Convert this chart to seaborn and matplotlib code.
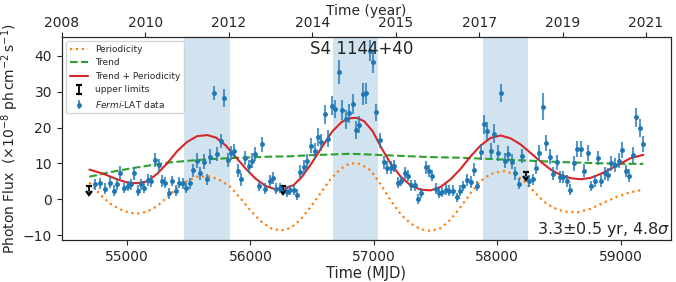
import matplotlib
matplotlib.use("Agg")
import matplotlib.pyplot as plt
import numpy as np
import pandas as pd
import seaborn as sns

# Fermi-LAT light curve (MJD, flux in 1e-8 ph cm^-2 s^-1, 1 sigma error)
mjd = [54737, 54778, 54819, 54859, 54891, 54919, 54946, 54973, 55005, 55032,
       55059, 55086, 55113, 55140, 55170, 55197, 55229, 55256, 55283, 55310,
       55340, 55367, 55394, 55424, 55451, 55481, 55508, 55535, 55567, 55594,
       55621, 55648, 55675, 55705, 55732, 55762, 55789, 55816, 55843, 55870,
       55900, 55927, 55954, 55986, 56013, 56040, 56067, 56094, 56121, 56154,
       56181, 56208, 56238, 56292, 56324, 56351, 56378, 56405, 56432, 56459,
       56492, 56519, 56546, 56573, 56603, 56630, 56657, 56684, 56716, 56743,
       56770, 56797, 56827, 56854, 56881, 56911, 56938, 56965, 56994, 57021,
       57048, 57081, 57108, 57135, 57162, 57195, 57222, 57249, 57276, 57303,
       57330, 57357, 57384, 57419, 57446, 57473, 57500, 57527, 57554, 57581,
       57608, 57641, 57670, 57697, 57725, 57752, 57784, 57811, 57838, 57865,
       57892, 57919, 57946, 57973, 58006, 58033, 58060, 58089, 58116, 58144,
       58176, 58203, 58257, 58287, 58314, 58341, 58368, 58395, 58427, 58454,
       58481, 58508, 58535, 58562, 58589, 58622, 58649, 58676, 58703, 58735,
       58762, 58789, 58817, 58844, 58871, 58898, 58925, 58952, 58987, 59014,
       59041, 59068, 59100, 59127, 59154, 59184]
flux = [4.2, 4.5, 3.0, 4.7, 2.4, 4.2, 7.4, 3.2, 3.7, 4.2,
        7.3, 2.4, 4.2, 3.2, 5.4, 5.1, 11.0, 9.5, 5.1, 4.7,
        1.7, 5.1, 2.4, 4.7, 4.5, 3.2, 4.5, 8.1, 10.8, 7.3,
        10.5, 5.6, 11.9, 29.6, 12.7, 16.3, 28.3, 11.0, 12.9, 13.4,
        8.0, 5.6, 11.5, 9.2, 10.8, 12.6, 3.7, 15.3, 3.0, 5.1,
        6.0, 3.0, 3.2, 2.1, 2.6, 2.6, 1.3, 7.7, 9.1, 10.6,
        15.0, 13.5, 17.4, 15.9, 23.7, 16.9, 26.1, 25.2, 35.4, 25.0,
        22.3, 24.0, 26.6, 19.3, 20.8, 29.3, 29.5, 41.4, 38.3, 24.2,
        16.4, 10.3, 8.8, 8.8, 9.3, 4.7, 5.1, 7.3, 6.6, 3.9,
        3.9, 0.1, 1.7, 9.0, 7.9, 6.6, 3.0, 1.7, 2.0, 2.7,
        2.4, 2.4, 0.6, 2.4, 3.7, 5.4, 4.9, 8.3, 3.7, 13.1,
        20.9, 19.0, 13.4, 18.3, 12.9, 29.6, 10.8, 12.7, 10.5, 7.3,
        4.4, 12.0, 5.1, 5.6, 8.8, 12.9, 25.8, 15.6, 11.9, 7.1,
        10.3, 6.3, 6.3, 5.1, 2.7, 10.0, 14.1, 14.1, 8.0, 12.9,
        3.7, 5.1, 11.5, 5.1, 7.3, 6.9, 10.0, 9.5, 10.8, 13.7,
        7.9, 6.6, 12.4, 22.8, 19.9, 15.5]
flux_err = [1.5, 1.5, 1.5, 1.5, 1.5, 1.5, 1.8, 1.5, 1.5, 1.5,
            1.8, 1.5, 1.5, 1.5, 1.6, 1.6, 2.0, 1.8, 1.6, 1.5,
            1.5, 1.5, 1.5, 1.5, 1.5, 1.5, 1.5, 1.8, 2.0, 1.8,
            2.0, 1.6, 2.0, 2.0, 2.0, 2.0, 2.5, 2.0, 2.0, 2.0,
            1.8, 1.8, 2.0, 1.8, 2.0, 2.0, 1.5, 2.0, 1.5, 1.6,
            1.6, 1.5, 1.5, 1.5, 1.5, 1.5, 1.5, 1.8, 1.8, 2.0,
            2.2, 2.2, 2.4, 2.4, 2.6, 2.4, 2.6, 2.6, 3.4, 2.8,
            2.6, 2.6, 2.8, 2.4, 2.4, 3.0, 3.0, 3.0, 3.2, 2.4,
            2.2, 1.8, 1.8, 1.8, 1.8, 1.5, 1.5, 1.6, 1.6, 1.5,
            1.5, 1.3, 1.4, 1.8, 1.8, 1.6, 1.5, 1.4, 1.4, 1.5,
            1.5, 1.5, 1.3, 1.5, 1.5, 1.6, 1.6, 1.8, 1.5, 2.2,
            2.6, 2.6, 2.2, 2.6, 2.2, 2.6, 2.0, 2.2, 2.0, 1.8,
            1.6, 2.0, 1.6, 1.6, 1.8, 2.2, 3.8, 2.2, 2.0, 1.8,
            2.0, 1.6, 1.6, 1.6, 1.5, 2.0, 2.2, 2.2, 1.8, 2.2,
            1.5, 1.6, 2.0, 1.6, 1.8, 1.8, 2.0, 2.0, 2.0, 2.2,
            1.8, 1.8, 2.2, 2.6, 2.4, 2.2]

# upper limits
ul_mjd = [54694, 56265, 58230]
ul_flux = [3.6, 3.7, 7.7]
ul_len = [1.2, 1.2, 1.2]

# model curves
per_mjd = [54694, 54783, 54864, 54946, 55027, 55094, 55162, 55243, 55324, 55405,
           55486, 55567, 55675, 55756, 55838, 55919, 56000, 56081, 56162, 56243,
           56324, 56405, 56486, 56567, 56648, 56729, 56800, 56854, 56892, 56973,
           57054, 57135, 57216, 57297, 57379, 57460, 57541, 57622, 57703, 57784,
           57865, 57946, 58054, 58135, 58216, 58298, 58379, 58460, 58541, 58649,
           58757, 58865, 58973, 59081, 59184]
per_val = [4.7, 1.3, -1.2, -2.8, -3.8, -3.9, -3.4, -1.9, 0.6, 3.2,
           5.1, 6.3, 6.4, 5.3, 3.4, 0.3, -3.1, -6.0, -8.0, -8.7,
           -8.0, -5.6, -2.2, 1.7, 5.6, 8.5, 9.9, 10.1, 9.8, 8.1,
           4.2, -0.2, -4.1, -6.7, -8.3, -8.8, -8.0, -5.6, -2.1, 1.7,
           5.1, 7.1, 7.9, 7.1, 5.1, 2.2, -0.7, -2.4, -3.4, -3.6,
           -2.6, -0.9, 0.8, 2.0, 2.7]

trend_mjd = [54694, 54864, 55027, 55189, 55351, 55513, 55675, 55838, 56000, 56162,
             56324, 56486, 56648, 56811, 56892, 57162, 57433, 57703, 57973, 58244,
             58514, 58784, 59000, 59184]
trend_val = [6.3, 7.6, 8.6, 9.5, 10.3, 10.8, 11.2, 11.5, 11.7, 11.9,
             12.0, 12.3, 12.5, 12.7, 12.6, 12.2, 11.8, 11.6, 11.2, 10.8,
             10.4, 10.1, 9.9, 9.9]

tot_mjd = [54694, 54810, 54919, 55000, 55081, 55162, 55243, 55324, 55405, 55486,
           55567, 55650, 55720, 55800, 55880, 55960, 56040, 56120, 56200, 56280,
           56350, 56420, 56500, 56580, 56660, 56740, 56810, 56860, 56920, 56990,
           57060, 57135, 57216, 57297, 57379, 57460, 57541, 57622, 57703, 57784,
           57865, 57946, 58027, 58108, 58189, 58271, 58352, 58433, 58514, 58595,
           58676, 58757, 58838, 58919, 59000, 59081, 59184]
tot_val = [8.3, 7.1, 5.6, 4.7, 4.5, 5.0, 7.1, 10.0, 13.4, 16.0,
           17.6, 17.9, 17.2, 15.0, 11.8, 8.6, 5.8, 3.8, 2.8, 3.0,
           4.0, 6.4, 10.3, 14.6, 18.8, 21.6, 22.6, 22.7, 21.8, 19.0,
           14.4, 10.0, 6.4, 3.9, 2.7, 2.5, 3.5, 5.6, 8.5, 12.0,
           15.0, 17.1, 17.8, 17.0, 15.3, 12.9, 10.5, 8.3, 6.8, 5.9,
           5.6, 6.0, 7.1, 8.5, 10.0, 11.5, 12.4]

# one-period windows around the maxima
span_start = [55465, 56671, 57884]
span_end = [55832, 57036, 58249]

year_labels = ["2008", "2010", "2012", "2014", "2015", "2017", "2019", "2021"]

sns.set_style("ticks")
plt.rcParams['font.family'] = ['DejaVu Sans']

fig, ax = plt.subplots(figsize=(6.76, 2.82), dpi=100)
fig.subplots_adjust(left=0.0913, right=0.9926, top=0.870, bottom=0.149)

for a, b in zip(span_start, span_end):
    ax.axvspan(a, b, color='tab:blue', alpha=0.2, lw=0, zorder=0)

sns.lineplot(x=per_mjd, y=per_val, ax=ax, color='tab:orange', linestyle=':',
             linewidth=1.6, label='Periodicity')
sns.lineplot(x=trend_mjd, y=trend_val, ax=ax, color='tab:green', linestyle='--',
             linewidth=1.5, label='Trend')
sns.lineplot(x=tot_mjd, y=tot_val, ax=ax, color='tab:red', linewidth=1.5,
             label='Trend + Periodicity')

ax.errorbar(ul_mjd, ul_flux, yerr=ul_len, uplims=True, fmt='none', ecolor='k',
            elinewidth=1.3, capsize=2, capthick=1.6, label='upper limits')

df = pd.DataFrame({'mjd': mjd, 'flux': flux, 'err': flux_err})
ax.errorbar(df['mjd'], df['flux'], yerr=df['err'], fmt='o', ms=2.5,
            color='tab:blue', ecolor=(0.12, 0.47, 0.71, 0.75), elinewidth=1.5,
            label=r'$\it{Fermi}$-LAT data')

ax.set_xlim(54470, 59408)
ax.set_ylim(-11.3, 45.3)
ax.set_xticks([55000, 56000, 57000, 58000, 59000])
ax.set_yticks([-10, 0, 10, 20, 30, 40])
ax.tick_params(labelsize=10)
ax.set_xlabel('Time (MJD)', fontsize=10.5, labelpad=2)
ax.set_ylabel(r'Photon Flux  $(\times10^{-8}\ \mathrm{ph\,cm^{-2}\,s^{-1}})$',
              fontsize=10, labelpad=1)

ax.text(0.493, 0.985, 'S4 1144+40', transform=ax.transAxes, ha='center',
        va='top', fontsize=12)
ax.text(0.998, 0.005, r'3.3$\pm$0.5 yr, 4.8$\sigma$', transform=ax.transAxes,
        ha='right', va='bottom', fontsize=11.5)

ax.legend(loc='upper left', fontsize=6.5, framealpha=0.8)

# top axis in years
ax2 = ax.twiny()
x0, x1 = ax.get_xlim()
ax2.set_xlim(x0, x1)
ax2.set_xticks(np.linspace(x0, x0 + 0.959 * (x1 - x0), len(year_labels)))
ax2.set_xticklabels(year_labels)
ax2.tick_params(labelsize=10, pad=1)
ax2.set_xlabel('Time (year)', fontsize=10, labelpad=1)

fig.savefig('out.png', dpi=100)
